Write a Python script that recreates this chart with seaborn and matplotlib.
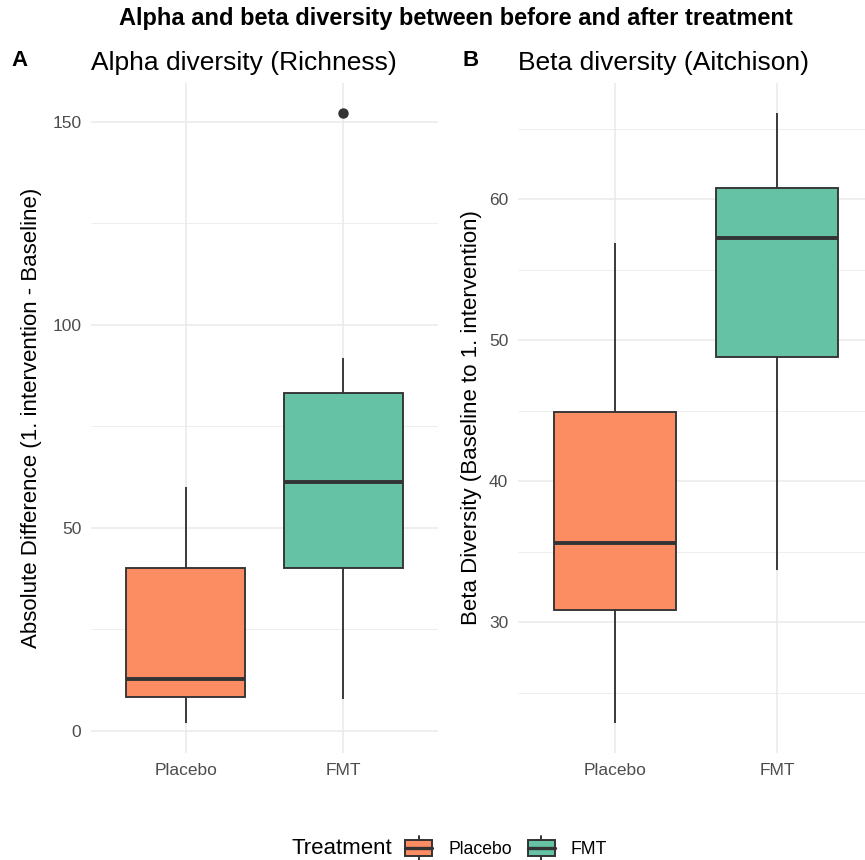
import numpy as np
import pandas as pd
import matplotlib
matplotlib.use('Agg')
import matplotlib.pyplot as plt
import seaborn as sns
from matplotlib.patches import Patch, Rectangle
from matplotlib.lines import Line2D
from matplotlib.legend_handler import HandlerBase
from matplotlib.ticker import FixedLocator

groups = ['Placebo', 'FMT']
colors = ['#FC8D62', '#66C2A5']

# box stats: low whisker, q1, median, q3, high whisker, outliers
alpha_low = [2.0, 7.9]
alpha_q1 = [8.4, 40.0]
alpha_med = [12.8, 61.4]
alpha_q3 = [40.0, 83.3]
alpha_high = [60.0, 91.9]
alpha_out = [[], [152.1]]

beta_low = [22.9, 33.7]
beta_q1 = [30.9, 48.8]
beta_med = [35.6, 57.3]
beta_q3 = [44.9, 60.8]
beta_high = [56.9, 66.1]
beta_out = [[], []]

alpha_ticks = [0, 50, 100, 150]
alpha_minor = [25, 75, 125]
beta_ticks = [30, 40, 50, 60]
beta_minor = [25, 35, 45, 55, 65]

EDGE = '#333333'


def make_df(lo, q1, med, q3, hi, out):  # samples whose quartiles hit the stats
    rows = []
    for i, g in enumerate(groups):
        vals = [lo[i], q1[i], q1[i], med[i], med[i], q3[i], q3[i], hi[i]] + list(out[i])
        rows += [(g, v) for v in vals]
    return pd.DataFrame(rows, columns=['Treatment', 'value'])


class BoxKey(HandlerBase):  # ggplot style boxplot legend key
    def create_artists(self, legend, orig, xd, yd, w, h, fontsize, trans):
        x0, y0 = -xd, -yd
        cx = x0 + w / 2
        b0, b1 = y0 + h * 0.15, y0 + h * 0.85
        box = Rectangle((x0, b0), w, b1 - b0, facecolor=orig.get_facecolor(),
                        edgecolor=EDGE, lw=1.4, transform=trans)
        mid = Line2D([x0, x0 + w], [y0 + h / 2] * 2, color=EDGE, lw=2.4, transform=trans)
        top = Line2D([cx, cx], [b1, y0 + h], color=EDGE, lw=1.4, transform=trans)
        bot = Line2D([cx, cx], [y0, b0], color=EDGE, lw=1.4, transform=trans)
        return [box, mid, top, bot]


def panel(ax, df, ticks, minor, ylab, title, lpad):
    sns.boxplot(data=df, x='Treatment', y='value', hue='Treatment', order=groups,
                hue_order=groups, palette=colors, saturation=1, width=0.75,
                linecolor=EDGE, linewidth=1.35, showcaps=False, fliersize=6.5,
                flierprops=dict(marker='o', markerfacecolor=EDGE, markeredgecolor=EDGE),
                medianprops=dict(linewidth=2.8), legend=False, ax=ax)
    v = df['value']
    span = v.max() - v.min()
    ax.set_ylim(v.min() - 0.05 * span, v.max() + 0.05 * span)  # ggplot expansion
    ax.set_xlim(-0.6, 1.6)
    ax.set_yticks(ticks)
    ax.yaxis.set_minor_locator(FixedLocator(minor))
    ax.grid(True, which='major', color='#EBEBEB', lw=1.2)
    ax.grid(True, which='minor', axis='y', color='#EBEBEB', lw=0.6)
    ax.set_axisbelow(True)
    for s in ax.spines.values():
        s.set_visible(False)
    ax.tick_params(which='both', length=0, labelsize=12.5, labelcolor='#4D4D4D')
    ax.tick_params(axis='y', pad=7)
    ax.tick_params(axis='x', pad=7)
    ax.set_xlabel('')
    ax.set_ylabel(ylab, fontsize=16, labelpad=lpad, color='black')
    ax.set_title(title, loc='left', fontsize=19, pad=9, color='black')


sns.set_theme(style='white')
plt.rcParams['font.family'] = ['Liberation Sans', 'DejaVu Sans']
plt.rcParams['text.color'] = 'black'
plt.rcParams['axes.labelcolor'] = 'black'

fig = plt.figure(figsize=(8.65, 8.6), dpi=100)
fig.patch.set_facecolor('white')

ax1 = fig.add_axes([91 / 865, 1 - 753 / 860, 347 / 865, 670 / 860])
ax2 = fig.add_axes([518 / 865, 1 - 753 / 860, 356 / 865, 670 / 860])

df_a = make_df(alpha_low, alpha_q1, alpha_med, alpha_q3, alpha_high, alpha_out)
df_b = make_df(beta_low, beta_q1, beta_med, beta_q3, beta_high, beta_out)

panel(ax1, df_a, alpha_ticks, alpha_minor,
      'Absolute Difference (1. intervention - Baseline)', 'Alpha diversity (Richness)', 7)
panel(ax2, df_b, beta_ticks, beta_minor,
      'Beta Diversity (Baseline to 1. intervention)', 'Beta diversity (Aitchison)', 5)

fig.text(456 / 865, 1 - 18 / 860, 'Alpha and beta diversity between before and after treatment',
         fontsize=17, fontweight='bold', ha='center', va='center')
fig.text(20 / 865, 1 - 61 / 860, 'A', fontsize=16, fontweight='bold', ha='center', va='center')
fig.text(471 / 865, 1 - 61 / 860, 'B', fontsize=16, fontweight='bold', ha='center', va='center')

# legend at the bottom
fig.text(292 / 865, 1 - 848 / 860, 'Treatment', fontsize=16, ha='left', va='center')
handles = [Patch(facecolor=c, edgecolor=EDGE) for c in colors]
fig.legend(handles, groups, handler_map={Patch: BoxKey()}, loc='center left',
           bbox_to_anchor=(405 / 865, 1 - 848 / 860), ncol=2, frameon=False,
           fontsize=12.7, handlelength=1.55, handleheight=1.65, handletextpad=0.9,
           columnspacing=0.9, borderpad=0, borderaxespad=0)

plt.savefig('out.png', dpi=100)
plt.close()
